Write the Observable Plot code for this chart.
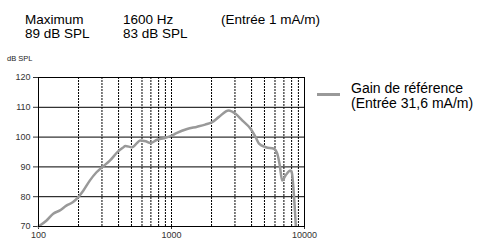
<!DOCTYPE html>
<html><head><meta charset="utf-8">
<script src="https://cdn.jsdelivr.net/npm/d3@7"></script>
<script src="https://cdn.jsdelivr.net/npm/@observablehq/plot@0.6"></script>
<style>
body{margin:0;background:#fff;font-family:"Liberation Sans",Arial,sans-serif;}
#wrap{position:relative;width:490px;height:240px;}
.t{position:absolute;white-space:nowrap;color:#000;}
.h{font-size:13.5px;line-height:13px;}
#chart{position:absolute;left:0;top:0;}
</style></head>
<body><div id="wrap">
<div class="t h" style="left:25px;top:13px">Maximum</div>
<div class="t h" style="left:25px;top:27px">89 dB SPL</div>
<div class="t h" style="left:123px;top:13px">1600 Hz</div>
<div class="t h" style="left:123px;top:27px">83 dB SPL</div>
<div class="t h" style="left:221px;top:13px">(Entrée 1 mA/m)</div>
<div class="t" style="left:7px;top:54px;font-size:7.5px;color:#222">dB SPL</div>
<div class="t" style="left:351px;top:81px;font-size:14px;line-height:15px">Gain de référence<br>(Entrée 31,6 mA/m)</div>
<div style="position:absolute;left:317px;top:92.5px;width:23px;height:3px;background:#999"></div>
<div id="chart"></div>
</div>
<script>
const freqs = [100,115,129,145,162,182,196,217,243,273,297,344,397,430,450,505,584,640,695,780,873,985,1100,1310,1560,1790,2020,2265,2690,3030,3400,3930,4290,4550,5120,5890,6250,6520,6790,7200,7840,8020,8300,8600];
const gain  = [70,72,74.3,75.4,77,78.2,79.5,82,85.4,88.2,89.7,92.1,95.2,96.4,97,96.6,98.9,98.6,98,99.1,99.6,100.3,101.4,102.7,103.5,104.2,105,106.7,108.9,107.8,105.6,102.8,100,97.8,96.6,96.1,94.4,90.5,85.4,87.1,88.8,88.2,81.5,70.3];
const xTicks = [100,1000,10000];
const yTicks = [70,80,90,100,110,120];
const hGrid = [80,90,100,110,120];
const vGrid = [200,300,400,500,600,700,800,900,1000,2000,3000,4000,5000,6000,7000,8000,9000];
const data = freqs.map((f,i)=>({f, g: gain[i]}));

const chart = Plot.plot({
  width: 490, height: 240,
  marginLeft: 38, marginRight: 186, marginTop: 77, marginBottom: 14,
  style: {fontFamily: '"Liberation Sans",Arial,sans-serif', fontSize: "9px", color: "#333", background: "transparent"},
  x: {type: "log", domain: [100, 10000], ticks: xTicks, tickFormat: d => String(d), tickSize: 3, tickPadding: 2, label: null},
  y: {domain: [70, 120], ticks: yTicks, tickSize: 5, tickPadding: 3, label: null},
  marks: [
    Plot.ruleY(hGrid, {stroke: "#000", strokeWidth: 1}),
    Plot.ruleX(vGrid, {stroke: "#000", strokeWidth: 1, strokeDasharray: "2,1"}),
    Plot.line(data, {x: "f", y: "g", stroke: "#999", strokeWidth: 2.5, curve: "monotone-x"}),
    Plot.frame({stroke: "#000", strokeWidth: 1})
  ]
});
document.getElementById("chart").appendChild(chart);
</script>
</body></html>
